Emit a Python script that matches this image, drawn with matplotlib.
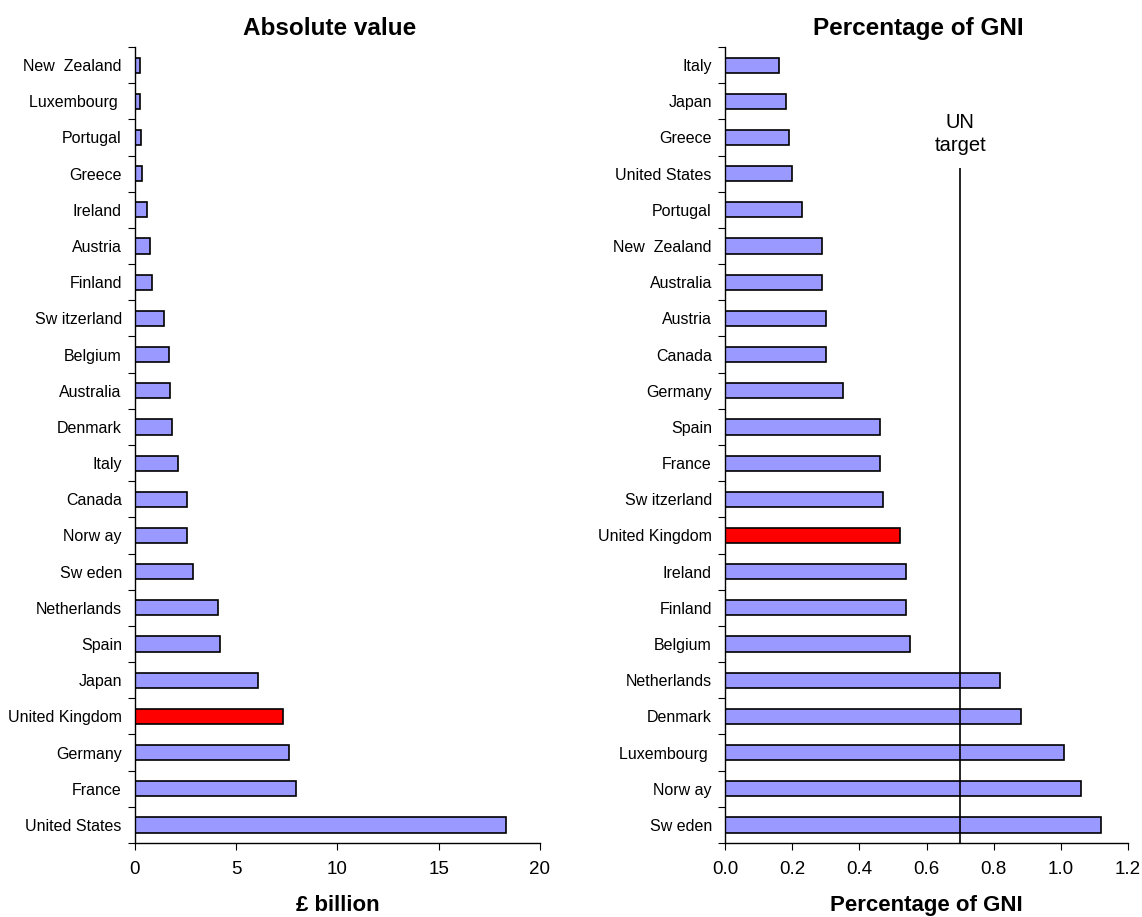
import numpy as np
import matplotlib
matplotlib.use("Agg")
import matplotlib.pyplot as plt
from matplotlib.ticker import FixedLocator

plt.rcParams["font.family"] = ["Liberation Sans", "DejaVu Sans"]

# ─── data (top of chart first) ───────────────────────────────────────────────
abs_countries = ["New  Zealand", "Luxembourg ", "Portugal", "Greece", "Ireland",
                 "Austria", "Finland", "Sw itzerland", "Belgium", "Australia",
                 "Denmark", "Italy", "Canada", "Norw ay", "Sw eden",
                 "Netherlands", "Spain", "Japan", "United Kingdom", "Germany",
                 "France", "United States"]
abs_values = [0.23, 0.23, 0.30, 0.35, 0.58, 0.74, 0.83, 1.43, 1.66, 1.73,
              1.82, 2.12, 2.58, 2.58, 2.88, 4.11, 4.19, 6.09, 7.31, 7.61,
              7.93, 18.3]

gni_countries = ["Italy", "Japan", "Greece", "United States", "Portugal",
                 "New  Zealand", "Australia", "Austria", "Canada", "Germany",
                 "Spain", "France", "Sw itzerland", "United Kingdom", "Ireland",
                 "Finland", "Belgium", "Netherlands", "Denmark", "Luxembourg ",
                 "Norw ay", "Sw eden"]
gni_values = [0.16, 0.18, 0.19, 0.20, 0.23, 0.29, 0.29, 0.30, 0.30, 0.35,
              0.46, 0.46, 0.47, 0.52, 0.54, 0.54, 0.55, 0.82, 0.88, 1.01,
              1.06, 1.12]

UN_TARGET = 0.7
HIGHLIGHT = "United Kingdom"
BLUE = "#9999FF"
RED = "#FF0000"


def draw_panel(ax, countries, values, title, xlabel, xticks, xticklabels):
    n = len(countries)
    ypos = np.arange(n)[::-1]  # first entry at top
    colours = [RED if c == HIGHLIGHT else BLUE for c in countries]
    ax.barh(ypos, values, height=0.42, color=colours, edgecolor="black",
            linewidth=1.2, zorder=2)
    ax.set_ylim(-0.5, n - 0.5)
    ax.set_xlim(xticks[0], xticks[-1])

    # labels at bar centres, tick marks at category boundaries
    ax.set_yticks(ypos)
    ax.set_yticklabels(countries, fontsize=11.5)
    ax.tick_params(axis="y", which="major", length=0, pad=9.5)
    ax.yaxis.set_minor_locator(FixedLocator(np.arange(n + 1) - 0.5))
    ax.tick_params(axis="y", which="minor", length=5, width=0.8,
                   direction="out")

    ax.set_xticks(xticks)
    ax.set_xticklabels(xticklabels, fontsize=13.5)
    ax.tick_params(axis="x", length=5, width=0.8, direction="out", pad=8)

    for side in ["top", "right"]:
        ax.spines[side].set_visible(False)
    for side in ["left", "bottom"]:
        ax.spines[side].set_linewidth(1.0)

    ax.set_title(title, fontsize=17.5, weight="bold", pad=8.5, x=0.48)
    ax.set_xlabel(xlabel, fontsize=16, weight="bold", labelpad=12)


fig = plt.figure(figsize=(11.42, 9.17), dpi=100)
ax1 = fig.add_axes([0.1182, 0.0807, 0.3546, 0.868])
ax2 = fig.add_axes([0.6349, 0.0807, 0.3529, 0.868])

draw_panel(ax1, abs_countries, abs_values, "Absolute value", "£ billion",
           [0, 5, 10, 15, 20], ["0", "5", "10", "15", "20"])
draw_panel(ax2, gni_countries, gni_values, "Percentage of GNI",
           "Percentage of GNI",
           [0.0, 0.2, 0.4, 0.6, 0.8, 1.0, 1.2],
           ["0.0", "0.2", "0.4", "0.6", "0.8", "1.0", "1.2"])

# UN target reference line
ax2.vlines(UN_TARGET, -0.5, 18.16, color="black", linewidth=1.2, zorder=3)
ax2.text(UN_TARGET, 19.1, "UN\ntarget", ha="center", va="center",
         fontsize=14.5, linespacing=1.25)

fig.savefig("out.png", dpi=100)
